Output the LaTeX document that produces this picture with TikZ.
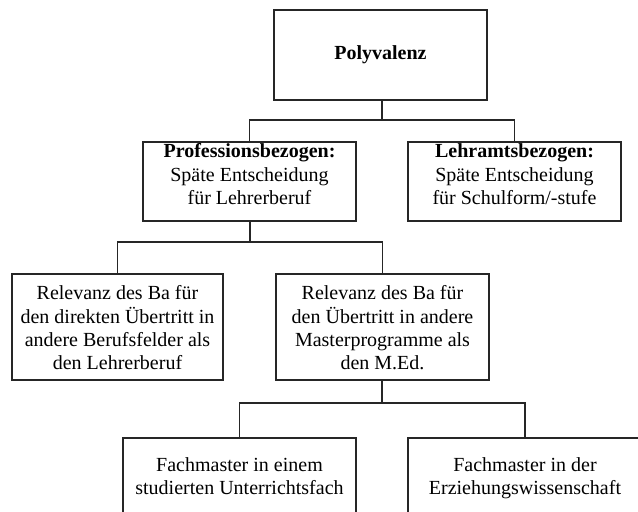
\documentclass[tikz,border=0pt]{standalone}
\usepackage{fontspec}
\setmainfont{Liberation Serif}
\begin{document}
\begin{tikzpicture}[x=1pt,y=-1pt,
  box/.style={draw=black!85,line width=1.1pt,rectangle,inner sep=0pt},
  txt/.style={inner sep=0pt,align=center,font=\fontsize{20}{23.3}\selectfont,anchor=north},
  conn/.style={draw=black!85,line width=1.1pt}]
\useasboundingbox (0,0) rectangle (638,512);
\clip (0,0) rectangle (638,512);
% boxes
\node[box,minimum width=213,minimum height=90] (poly) at (380.5,55) {};
\node[box,minimum width=213,minimum height=79] (prof) at (249.5,181.5) {};
\node[box,minimum width=213,minimum height=79] (lehr) at (514.5,181.5) {};
\node[box,minimum width=211,minimum height=106] (rell) at (117.5,327) {};
\node[box,minimum width=213,minimum height=106] (relr) at (382.5,327) {};
\node[box,minimum width=233,minimum height=110] (fachl) at (239.5,493) {};
\node[box,minimum width=234,minimum height=110] (fachr) at (525,493) {};
% texts
\node[inner sep=0pt,font=\fontsize{20}{23.3}\selectfont\bfseries] (polyt) at (poly.center) {Polyvalenz};
\node[txt] (proft) at (249.5,143.7) {\textbf{Professionsbezogen:}\\Späte Entscheidung\\für Lehrerberuf};
\node[txt] (lehrt) at (514.5,143.7) {\textbf{Lehramtsbezogen:}\\Späte Entscheidung\\für Schulform/-stufe};
\node[txt] (rellt) at (117.5,285.5) {Relevanz des Ba für\\den direkten Übertritt in\\andere Berufsfelder als\\den Lehrerberuf};
\node[txt] (relrt) at (382.5,285.5) {Relevanz des Ba für\\den Übertritt in andere\\Masterprogramme als\\den M.Ed.};
\node[txt] (fachlt) at (239.5,457) {Fachmaster in einem\\studierten Unterrichtsfach};
\node[txt] (fachrt) at (525,457) {Fachmaster in der\\Erziehungswissenschaft};
% connectors
\coordinate (b1) at (382,120);
\coordinate (b2) at (250,242);
\coordinate (b3) at (382,403);
\draw[conn] (poly.south -| b1) -- (b1);
\draw[conn] (prof.north) |- (b1) -| (lehr.north);
\draw[conn] (prof.south -| b2) -- (b2);
\draw[conn] (rell.north) |- (b2) -| (relr.north);
\draw[conn] (relr.south -| b3) -- (b3);
\draw[conn] (fachl.north) |- (b3) -| (fachr.north);
\end{tikzpicture}
\end{document}
